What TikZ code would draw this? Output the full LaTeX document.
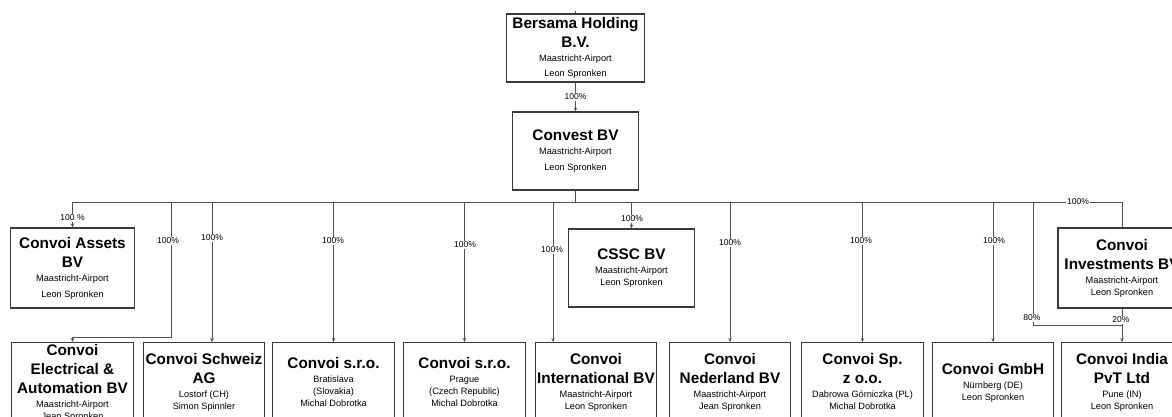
\documentclass[tikz,border=0pt]{standalone}
\usepackage{fontspec}
\setmainfont{Liberation Sans}
\usetikzlibrary{arrows.meta}

\definecolor{boxline}{HTML}{3A3A3A}
\definecolor{linkline}{HTML}{505050}
\newcommand{\ttl}[1]{{\fontsize{11.5}{13.3}\selectfont\bfseries\strut #1}}
\newcommand{\sub}[1]{{\fontsize{6.9}{8}\selectfont\strut #1}}

\tikzset{
  org/.style={draw=boxline, line width=0.9pt, align=center, inner sep=0.5pt,
    font=\fontsize{6.9}{0}\selectfont},
  unit/.style={org, anchor=north, minimum width=91pt, minimum height=60pt},
  link/.style={draw=linkline, line width=0.6pt},
  arr/.style={link, -{Stealth[length=3pt,width=2.6pt]}},
  pct/.style={fill=white, inner sep=0.6pt, font=\fontsize{6.4}{7}\selectfont}
}

\begin{document}
\begin{tikzpicture}[x=0.75pt, y=-0.75pt]
    \useasboundingbox (0,0) rectangle (1172,417);
    \clip (0,0) rectangle (1172,417);

    % holding and top company
    \node[org, minimum width=103pt, minimum height=51pt] (bersama) at (575.5,48)
      {\ttl{Bersama Holding}\\\ttl{B.V.}\\\sub{Maastricht-Airport}\\[2pt]\sub{Leon Spronken}};
    \node[org, minimum width=95pt, minimum height=58.5pt] (convest) at (575.5,151)
      {\ttl{Convest BV}\\\sub{Maastricht-Airport}\\[3pt]\sub{Leon Spronken}};

    % middle row
    \node[org, minimum width=93pt, minimum height=60pt] (assets) at (72.5,268)
      {\ttl{Convoi Assets}\\\ttl{BV}\\\sub{Maastricht-Airport}\\[3pt]\sub{Leon Spronken}};
    \node[org, minimum width=95pt, minimum height=58.5pt] (cssc) at (631.5,268)
      {\ttl{CSSC BV}\\\sub{Maastricht-Airport}\\\sub{Leon Spronken}};
    \node[org, minimum width=96pt, minimum height=60pt] (invest) at (1122,268)
      {\ttl{Convoi}\\\ttl{Investments BV}\\\sub{Maastricht-Airport}\\\sub{Leon Spronken}};

    % bottom row
    \node[unit] (electrical) at (72.5,342)
      {\ttl{Convoi}\\\ttl{Electrical \&}\\\ttl{Automation BV}\\\sub{Maastricht-Airport}\\\sub{Jean Spronken}};
    \node[unit] (schweiz) at (204,342)
      {\ttl{Convoi Schweiz}\\\ttl{AG}\\\sub{Lostorf (CH)}\\\sub{Simon Spinnler}};
    \node[unit] (sro1) at (333.5,342)
      {\ttl{Convoi s.r.o.}\\\sub{Bratislava}\\\sub{(Slovakia)}\\\sub{Michal Dobrotka}};
    \node[unit] (sro2) at (464.5,342)
      {\ttl{Convoi s.r.o.}\\\sub{Prague}\\\sub{(Czech Republic)}\\\sub{Michal Dobrotka}};
    \node[unit] (intl) at (596,342)
      {\ttl{Convoi}\\\ttl{International BV}\\\sub{Maastricht-Airport}\\\sub{Leon Spronken}};
    \node[unit] (nederland) at (730,342)
      {\ttl{Convoi}\\\ttl{Nederland BV}\\\sub{Maastricht-Airport}\\\sub{Jean Spronken}};
    \node[unit] (sp) at (862.5,342)
      {\ttl{Convoi Sp.}\\\ttl{z o.o.}\\\sub{Dabrowa Górniczka (PL)}\\\sub{Michal Dobrotka}};
    \node[unit] (gmbh) at (993,342)
      {\ttl{Convoi GmbH}\\\sub{Nürnberg (DE)}\\\sub{Leon Spronken}};
    \node[unit] (india) at (1122,342)
      {\ttl{Convoi India}\\\ttl{PvT Ltd}\\\sub{Pune (IN)}\\\sub{Leon Spronken}};

    % connectors
    \coordinate (up) at (575.5,11);
    \coordinate (busL) at (72.5,202);
    \coordinate (busR) at (1122,202);
    \coordinate (elec) at (171,202);
    \coordinate (swiss) at (212,202);
    \coordinate (inter) at (553,202);
    \coordinate (split) at (1033,202);
    \coordinate (join) at (1122,325);
    \draw[link] (up) -- (bersama.north);
    \draw[arr] (bersama.south) -- (convest.north);
    \draw[link] (convest.south) -- (convest.south |- busL);
    \draw[link] (busL) -- (busR) -- (invest.north);
    \draw[arr] (busL) -- (assets.north);
    \draw[arr] (cssc.north |- busL) -- (cssc.north);
    \foreach \n in {sro1,sro2,nederland,sp,gmbh}
    \draw[arr] (\n.north |- busL) -- (\n.north);
    \draw[arr] (swiss) -- (swiss |- schweiz.north);
    \draw[arr] (inter) -- (inter |- intl.north);
    \draw[arr] (elec) -- ++(0,135) -| (electrical.north);
    \draw[arr] (invest.south) -- (india.north);
    \draw[link] (split) |- (join);

    % shares
    \node[pct] at (575.5,97) {100\%};
    \node[pct] at (72.5,218) {100 \%};
    \node[pct] at (168,241) {100\%};
    \node[pct] at (212,238) {100\%};
    \node[pct] at (333,241) {100\%};
    \node[pct] at (465,245) {100\%};
    \node[pct] at (552,250) {100\%};
    \node[pct] at (632,219) {100\%};
    \node[pct] at (730,243) {100\%};
    \node[pct] at (861,241) {100\%};
    \node[pct] at (994,241) {100\%};
    \node[pct] at (1078,202) {100\%};
    \node[pct] at (1032,318) {80\%};
    \node[pct] at (1121,320) {20\%};
\end{tikzpicture}
\end{document}
